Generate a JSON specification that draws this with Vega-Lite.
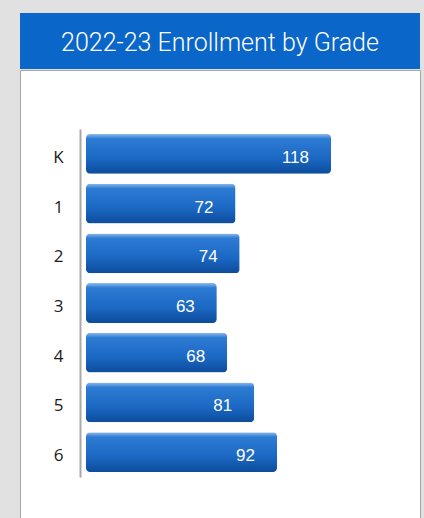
{
  "$schema": "https://vega.github.io/schema/vega-lite/v6.json",
  "background": "#e1e1e1",
  "padding": {"left": 19, "top": 13, "right": 5, "bottom": 0},
  "spacing": 0,
  "config": {"view": {"stroke": null}},
  "vconcat": [
    {
      "width": 400,
      "height": 56,
      "view": {"fill": "#0a66c8", "stroke": null},
      "data": {"values": [{"title": "2022-23 Enrollment by Grade"}]},
      "mark": {"type": "text", "color": "white", "font": "Roboto", "fontSize": 25, "fontWeight": 300, "baseline": "middle", "dy": 2},
      "encoding": {"text": {"field": "title"}}
    },
    {
      "width": 400,
      "height": 460,
      "view": {"fill": "white", "stroke": "#a6a6a6"},
      "data": {"values": [
        {"grade": "K", "count": 118},
        {"grade": "1", "count": 72},
        {"grade": "2", "count": 74},
        {"grade": "3", "count": 63},
        {"grade": "4", "count": 68},
        {"grade": "5", "count": 81},
        {"grade": "6", "count": 92}
      ]},
      "encoding": {
        "y": {"field": "grade", "type": "nominal", "sort": null,
          "scale": {"range": [59, 407], "paddingInner": 0.2, "paddingOuter": 0.1},
          "axis": {"title": null, "offset": -60, "ticks": false, "tickSize": 0, "labelPadding": 22, "labelAlign": "center", "labelBaseline": "middle", "labelFont": "Open Sans", "labelFontSize": 17, "labelColor": "#1a1a1a", "domainColor": "#a8a8a8", "domainWidth": 2, "labelOffset": 4}},
        "x": {"field": "count", "type": "quantitative", "scale": {"domain": [0, 118], "range": [66, 311], "nice": false}, "axis": null}
      },
      "layer": [
        {
          "mark": {"type": "bar", "cornerRadius": 4, "color": {"gradient": "linear", "x1": 0, "y1": 0, "x2": 0, "y2": 1, "stops": [
            {"offset": 0, "color": "#8dbbec"},
            {"offset": 0.12, "color": "#2d7bd3"},
            {"offset": 0.6, "color": "#1c69c4"},
            {"offset": 1, "color": "#0c4c9c"}
          ]}}
        },
        {
          "mark": {"type": "text", "color": "white", "font": "Liberation Sans", "fontSize": 17, "align": "right", "baseline": "middle", "dx": -22, "dy": 4},
          "encoding": {
            "text": {"field": "count"}
          }
        }
      ]
    }
  ]
}
